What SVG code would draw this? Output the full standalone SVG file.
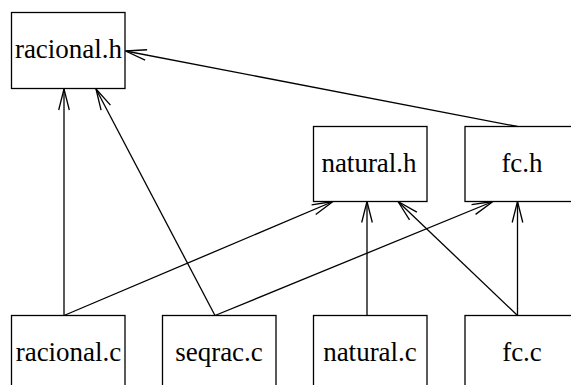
<svg xmlns="http://www.w3.org/2000/svg" width="571" height="385" viewBox="0 0 571 385">
  <style>
    .node rect { fill: #ffffff; stroke: #000000; stroke-width: 1.3; }
    .node text { font-family: "Liberation Serif", "Times New Roman", serif; font-size: 27px; text-anchor: middle; fill: #000000; }
    .edges line { stroke: #000000; stroke-width: 1.3; fill: none; marker-end: url(#vee); }
  </style>
  <defs>
    <marker id="vee" markerUnits="userSpaceOnUse" markerWidth="30" markerHeight="20" viewBox="-25 -10 30 20" refX="0" refY="0" orient="auto">
      <path d="M-21,-5.3 L0,0 L-21,5.3" fill="none" stroke="#000000" stroke-width="1.3"/>
    </marker>
  </defs>
  <rect width="571" height="385" fill="#ffffff"/>

  <g class="edges">
    <!-- racional.c -> racional.h -->
    <line x1="64" y1="315.5" x2="64" y2="89"/>
    <!-- racional.c -> natural.h -->
    <line x1="64" y1="315.5" x2="333" y2="201.5"/>
    <!-- seqrac.c -> racional.h -->
    <line x1="215" y1="315.5" x2="96" y2="89"/>
    <!-- seqrac.c -> fc.h -->
    <line x1="215" y1="315.5" x2="493" y2="201.5"/>
    <!-- natural.c -> natural.h -->
    <line x1="367" y1="315.5" x2="367" y2="201.5"/>
    <!-- fc.c -> natural.h -->
    <line x1="517.5" y1="315.5" x2="398" y2="201.5"/>
    <!-- fc.c -> fc.h -->
    <line x1="517.5" y1="315.5" x2="517.5" y2="201.5"/>
    <!-- fc.h -> racional.h -->
    <line x1="517.5" y1="126.5" x2="125.5" y2="51"/>
  </g>

  <g id="racional_h" class="node">
    <rect x="11.5" y="12.5" width="113.5" height="76"/>
    <text x="68.5" y="58">racional.h</text>
  </g>
  <g id="natural_h" class="node">
    <rect x="313.5" y="126.5" width="113.5" height="75"/>
    <text x="369" y="172">natural.h</text>
  </g>
  <g id="fc_h" class="node">
    <rect x="465" y="126.5" width="113.5" height="75"/>
    <text x="522" y="172">fc.h</text>
  </g>
  <g id="racional_c" class="node">
    <rect x="11.5" y="315.5" width="113.5" height="76"/>
    <text x="68.5" y="361">racional.c</text>
  </g>
  <g id="seqrac_c" class="node">
    <rect x="162.5" y="315.5" width="113.5" height="76"/>
    <text x="219" y="361">seqrac.c</text>
  </g>
  <g id="natural_c" class="node">
    <rect x="313.5" y="315.5" width="113.5" height="76"/>
    <text x="370" y="361">natural.c</text>
  </g>
  <g id="fc_c" class="node">
    <rect x="465" y="315.5" width="113.5" height="76"/>
    <text x="522" y="361">fc.c</text>
  </g>
</svg>
